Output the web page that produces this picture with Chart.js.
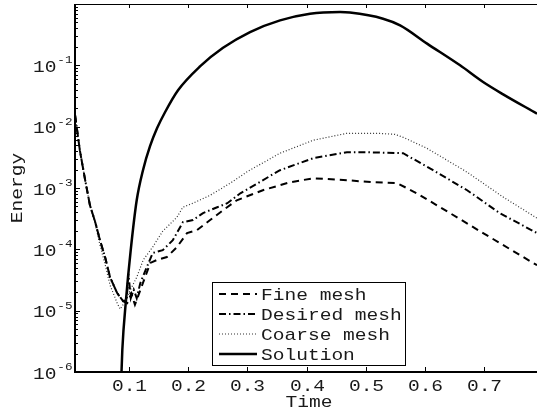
<!DOCTYPE html>
<html>
<head>
<meta charset="utf-8">
<script src="https://cdn.jsdelivr.net/npm/chart.js@4.4.0/dist/chart.umd.min.js"></script>
<style>
body { margin: 0; background: #fff; }
#wrap { width: 537px; height: 418px; position: relative; }
</style>
</head>
<body>
<div id="wrap"><canvas id="chart"></canvas></div>
<script>
// tick labels
const xTicks = [0.1, 0.2, 0.3, 0.4, 0.5, 0.6, 0.7];
const yExponents = [-6, -5, -4, -3, -2, -1];

// Fine mesh
const fineT = [0.009, 0.017, 0.026, 0.034, 0.043, 0.051, 0.06, 0.068, 0.08, 0.09, 0.097, 0.104, 0.11, 0.119, 0.127, 0.136, 0.147, 0.164, 0.181, 0.198, 0.215, 0.237, 0.259, 0.282, 0.326, 0.372, 0.411, 0.468, 0.512, 0.553, 0.586, 0.642, 0.698, 0.789];
const fineE = [1.53e-2, 4.1e-3, 1.34e-3, 5.25e-4, 2.77e-4, 1.41e-4, 7.2e-5, 3.5e-5, 1.94e-5, 1.43e-5, 1.33e-5, 1.9e-5, 1.25e-5, 2.15e-5, 3.5e-5, 6.0e-5, 6.7e-5, 7.5e-5, 1.09e-4, 1.84e-4, 2.06e-4, 3.0e-4, 4.36e-4, 6.3e-4, 9.2e-4, 1.24e-3, 1.44e-3, 1.34e-3, 1.24e-3, 1.2e-3, 8.2e-4, 3.9e-4, 1.84e-4, 5.5e-5];

// Desired mesh
const desiredT = [0.009, 0.017, 0.026, 0.034, 0.043, 0.051, 0.06, 0.068, 0.08, 0.09, 0.096, 0.099, 0.103, 0.108, 0.113, 0.119, 0.13, 0.14, 0.157, 0.174, 0.191, 0.208, 0.225, 0.249, 0.266, 0.288, 0.355, 0.411, 0.468, 0.502, 0.563, 0.6135, 0.671, 0.726, 0.789];
const desiredE = [1.53e-2, 4.1e-3, 1.34e-3, 5.25e-4, 2.77e-4, 1.41e-4, 7.2e-5, 3.5e-5, 1.94e-5, 1.43e-5, 1.5e-5, 4.0e-5, 1.6e-5, 2.2e-5, 1.6e-5, 2.8e-5, 5.1e-5, 8.7e-5, 9.7e-5, 1.41e-4, 2.77e-4, 3.0e-4, 3.9e-4, 4.86e-4, 5.65e-4, 8.2e-4, 1.95e-3, 3.06e-3, 3.83e-3, 3.83e-3, 3.69e-3, 1.95e-3, 9.2e-4, 3.9e-4, 1.84e-4];

// Coarse mesh
const coarseT = [0.009, 0.017, 0.026, 0.034, 0.043, 0.051, 0.06, 0.068, 0.08, 0.085, 0.093, 0.102, 0.113, 0.124, 0.14, 0.157, 0.181, 0.191, 0.208, 0.237, 0.271, 0.301, 0.355, 0.411, 0.468, 0.519, 0.549, 0.563, 0.603, 0.671, 0.732, 0.789];
const coarseE = [1.53e-2, 4.1e-3, 1.34e-3, 5.2e-4, 2.6e-4, 1.17e-4, 5.5e-5, 2.6e-5, 1.33e-5, 1.06e-5, 1.38e-5, 2.15e-5, 3.5e-5, 6.7e-5, 1.09e-4, 1.98e-4, 3.34e-4, 4.86e-4, 5.65e-4, 7.6e-4, 1.2e-3, 1.88e-3, 3.69e-3, 6.0e-3, 7.8e-3, 7.8e-3, 7.5e-3, 6.7e-3, 4.45e-3, 1.81e-3, 7.1e-4, 3.22e-4];

// Solution
const solT = [0.087, 0.0887, 0.0949, 0.1029, 0.113, 0.1236, 0.1355, 0.1473, 0.1608, 0.1828, 0.2199, 0.2588, 0.3044, 0.3551, 0.4057, 0.4564, 0.473, 0.529, 0.5578, 0.6034, 0.6591, 0.698, 0.7318, 0.789];
const solE = [8e-7, 2.28e-6, 1.49e-5, 9.7e-5, 6.3e-4, 1.95e-3, 4.8e-3, 9.4e-3, 1.72e-2, 3.92e-2, 9.6e-2, 0.193, 0.349, 0.541, 0.695, 0.738, 0.724, 0.576, 0.448, 0.226, 0.1, 0.0535, 0.0337, 0.0163];

function pts(ts, es) {
    return ts.map((t, i) => ({x: t, y: es[i]}));
}

const FONT = '"Liberation Mono", "DejaVu Sans Mono", monospace';

function drawText(ctx, str, x, y, size, align) {
    ctx.save();
    ctx.font = size + 'px ' + FONT;
    ctx.translate(x, y);
    ctx.scale(1.15, 1);
    ctx.textAlign = align;
    ctx.textBaseline = 'alphabetic';
    ctx.fillStyle = '#1a1a1a';
    ctx.fillText(str, 0, 0);
    ctx.restore();
}

const framePlugin = {
    id: 'framePlugin',
    afterDraw(chart) {
        const ctx = chart.ctx;
        const a = chart.chartArea;
        const x = chart.scales.x;
        const y = chart.scales.y;
        ctx.save();
        ctx.strokeStyle = '#000';
        ctx.setLineDash([]);

        // top border
        ctx.lineWidth = 1;
        ctx.beginPath();
        ctx.moveTo(a.left, a.top + 0.5);
        ctx.lineTo(a.right, a.top + 0.5);
        ctx.stroke();

        // left and bottom axes
        ctx.lineWidth = 2;
        ctx.beginPath();
        ctx.moveTo(a.left, a.top);
        ctx.lineTo(a.left, a.bottom);
        ctx.lineTo(a.right, a.bottom);
        ctx.stroke();

        // x ticks, inward, top and bottom
        ctx.lineWidth = 1;
        xTicks.forEach(v => {
            const px = Math.round(x.getPixelForValue(v)) + 0.5;
            ctx.beginPath();
            ctx.moveTo(px, a.bottom);
            ctx.lineTo(px, a.bottom - 5);
            ctx.moveTo(px, a.top);
            ctx.lineTo(px, a.top + 4);
            ctx.stroke();
            drawText(ctx, String(v), px, 391, 17, 'center');
        });

        // y ticks, major and minor
        for (let k = -6; k <= 0; k++) {
            for (let m = 1; m <= 9; m++) {
                const v = m * Math.pow(10, k);
                if (v > 1) break;
                const py = Math.round(y.getPixelForValue(v)) + 0.5;
                ctx.beginPath();
                ctx.moveTo(a.left, py);
                ctx.lineTo(a.left + (m === 1 ? 5 : 3), py);
                ctx.stroke();
            }
        }
        yExponents.forEach(e => {
            const py = y.getPixelForValue(Math.pow(10, e));
            drawText(ctx, '10', 56.5, py + 6.5, 17, 'right');
            drawText(ctx, String(e), 72.5, py - 2, 11, 'right');
        });

        // axis titles
        drawText(ctx, 'Time', 309, 407, 17, 'center');
        ctx.save();
        ctx.translate(22, 188);
        ctx.rotate(-Math.PI / 2);
        drawText(ctx, 'Energy', 0, 0, 17, 'center');
        ctx.restore();

        // legend
        const bx = 212.5, by = 282.5, bw = 193, bh = 83;
        ctx.fillStyle = '#fff';
        ctx.fillRect(bx, by, bw, bh);
        ctx.lineWidth = 1;
        ctx.strokeRect(bx, by, bw, bh);
        chart.data.datasets.forEach((ds, i) => {
            const ry = 294 + i * 20;
            ctx.save();
            ctx.strokeStyle = ds.borderColor;
            ctx.lineWidth = ds.borderWidth;
            ctx.setLineDash(ds.borderDash || []);
            ctx.beginPath();
            ctx.moveTo(219, ry);
            ctx.lineTo(257, ry);
            ctx.stroke();
            ctx.restore();
            drawText(ctx, ds.label, 261, ry + 6, 17, 'left');
        });
        ctx.restore();
    }
};

new Chart(document.getElementById('chart'), {
    type: 'scatter',
    data: {
        datasets: [
            {
                label: 'Fine mesh',
                data: pts(fineT, fineE),
                borderColor: '#000',
                borderWidth: 2,
                borderDash: [7, 5],
                showLine: true,
                pointRadius: 0,
                tension: 0
            },
            {
                label: 'Desired mesh',
                data: pts(desiredT, desiredE),
                borderColor: '#000',
                borderWidth: 2,
                borderDash: [7, 3, 1.5, 3],
                showLine: true,
                pointRadius: 0,
                tension: 0
            },
            {
                label: 'Coarse mesh',
                data: pts(coarseT, coarseE),
                borderColor: '#333',
                borderWidth: 1.2,
                borderDash: [1, 2],
                showLine: true,
                pointRadius: 0,
                tension: 0
            },
            {
                label: 'Solution',
                data: pts(solT, solE),
                borderColor: '#000',
                borderWidth: 2.5,
                showLine: true,
                pointRadius: 0,
                cubicInterpolationMode: 'monotone'
            }
        ]
    },
    options: {
        responsive: true,
        maintainAspectRatio: false,
        animation: false,
        layout: { padding: { top: 4, right: 0, left: 0, bottom: 0 } },
        plugins: {
            legend: { display: false },
            tooltip: { enabled: false }
        },
        scales: {
            x: {
                type: 'linear',
                min: 0.0088,
                max: 0.789,
                grid: { display: false },
                border: { display: false },
                ticks: { display: false },
                afterFit(s) { s.height = 46; }
            },
            y: {
                type: 'logarithmic',
                min: 1e-6,
                max: 1,
                grid: { display: false },
                border: { display: false },
                ticks: { display: false },
                afterFit(s) { s.width = 75; }
            }
        }
    },
    plugins: [framePlugin]
});
</script>
</body>
</html>
